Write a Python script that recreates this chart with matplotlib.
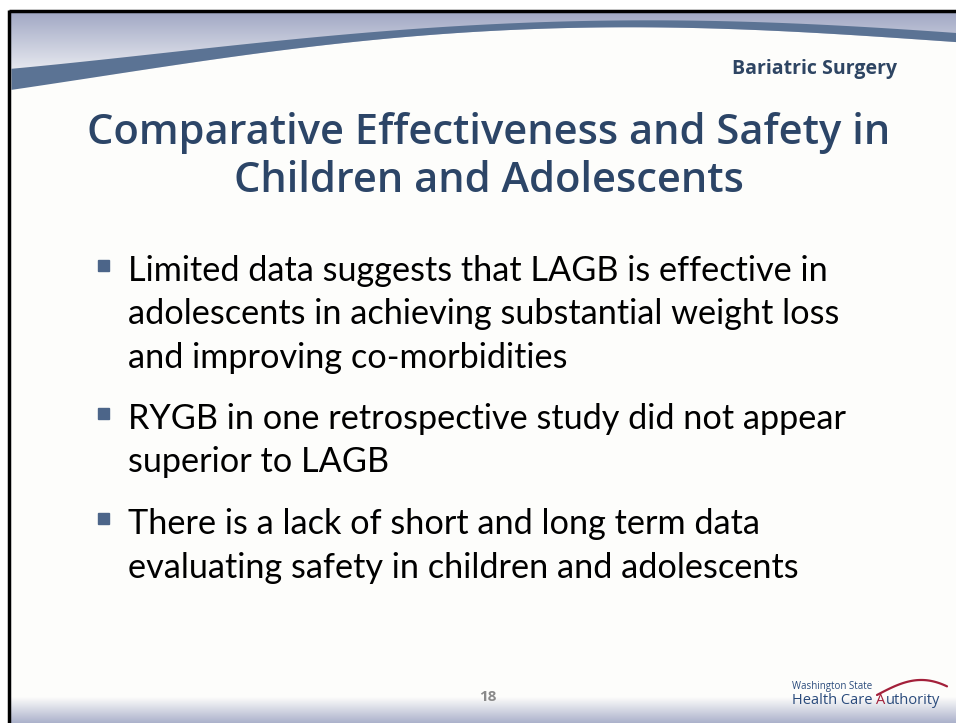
import numpy as np
import matplotlib.pyplot as plt
from matplotlib.colors import to_rgb
from matplotlib.patches import Rectangle

# slide content
header_label = 'Bariatric Surgery'
title_lines = ['Comparative Effectiveness and Safety in', 'Children and Adolescents']
bullets = [
    ['Limited data suggests that LAGB is effective in',
     'adolescents in achieving substantial weight loss',
     'and improving co-morbidities'],
    ['RYGB in one retrospective study did not appear',
     'superior to LAGB'],
    ['There is a lack of short and long term data',
     'evaluating safety in children and adolescents'],
]
page_number = '18'
logo_small = 'Washington State'
logo_parts = ['Health Care ', 'A', 'uthority']
logo_colors = ['#2A4B7C', '#A3203A', '#2A4B7C']

W, H = 956, 723
bg = '#FDFDFB'
band_col = '#5B7394'
title_col = '#2C4567'
bullet_col = '#4C6589'


def vgrad(ax, x0, x1, y0, y1, c0, c1, z=0):
    c0, c1 = np.array(to_rgb(c0)), np.array(to_rgb(c1))
    t = np.linspace(0, 1, 200)[:, None]
    img = (c0 * (1 - t) + c1 * t)[:, None, :]
    ax.imshow(img, extent=[x0, x1, y1, y0], aspect='auto', zorder=z,
              interpolation='bilinear')


fig = plt.figure(figsize=(W / 100, H / 100), dpi=100)
fig.patch.set_facecolor('white')
ax = fig.add_axes([0, 0, 1, 1])
ax.set_xlim(0, W)
ax.set_ylim(H, 0)
ax.axis('off')

# slide background
ax.add_patch(Rectangle((11, 12), W - 11, H - 12, color=bg, zorder=0))

# top swoosh
vgrad(ax, 11, W, 12, 80, '#A1A8C4', '#F3F4F7', z=1)
sx = np.array([11, 100, 200, 300, 400, 470, 500, 650, 800, 900, 956])
top = np.array([68, 60, 48, 38, 30, 25, 22, 21, 23, 28, 33])
bot = np.array([89, 77, 60, 47, 38, 32, 29, 27, 32, 37, 42])
xx = np.linspace(11, W, 400)
top_s = np.polyval(np.polyfit(sx, top, 4), xx)
bot_s = np.polyval(np.polyfit(sx, bot, 4), xx)
ax.fill_between(xx, bot_s, 95, color=bg, zorder=2, lw=0)
ax.fill_between(xx, top_s, bot_s, color=band_col, zorder=3, lw=0)

# bottom gradient
vgrad(ax, 11, W, 697, H, bg, '#ABB1CB', z=1)

# black border (top and left)
ax.plot([9.5, W], [10.5, 10.5], color='black', lw=2.5, zorder=5, solid_capstyle='butt')
ax.plot([9.5, 9.5], [10, H], color='black', lw=2.5, zorder=5, solid_capstyle='butt')

# header label
ax.text(897, 74, header_label, ha='right', va='baseline', fontsize=14,
        fontweight='bold', color='#2E4563', family='Open Sans', zorder=6)

# title
title_base = [144, 192]
for line, yb in zip(title_lines, title_base):
    ax.text(489, yb, line, ha='center', va='baseline', fontsize=30,
            fontweight='semibold', color=title_col, family='Open Sans', zorder=6)

# bullets
bullet_base = [281, 429, 534]
step = 43.5
for lines, yb in zip(bullets, bullet_base):
    ax.add_patch(Rectangle((98, yb - 21), 11, 11, color=bullet_col, zorder=6))
    for i, line in enumerate(lines):
        ax.text(128, yb + i * step, line, ha='left', va='baseline',
                fontsize=24.7, color='black', family='Lato', zorder=6)

# page number
ax.text(488, 701, page_number, ha='center', va='baseline', fontsize=11,
        fontweight='bold', color='#8A8A8A', family='Open Sans', zorder=6)

# logo
ax.text(792, 689, logo_small, ha='left', va='baseline', fontsize=7,
        color='#2A4B7C', family='Open Sans', zorder=6)
renderer = fig.canvas.get_renderer()
x = 792
for part, col in zip(logo_parts, logo_colors):
    tx = ax.text(x, 704, part, ha='left', va='baseline', fontsize=10.5,
                 color=col, family='Open Sans', zorder=6)
    bb = tx.get_window_extent(renderer=renderer)
    x = ax.transData.inverted().transform((bb.x1, bb.y0))[0]
t = np.linspace(0, 1, 60)
arc_x = 877 + 70 * t
arc_y = 695 - 19 * np.sin(np.pi * t * 0.72) + 6 * t
ax.plot(arc_x, arc_y, color='#A3203A', lw=1.6, zorder=6, solid_capstyle='round')

fig.savefig('out.png', dpi=100, facecolor='white')
